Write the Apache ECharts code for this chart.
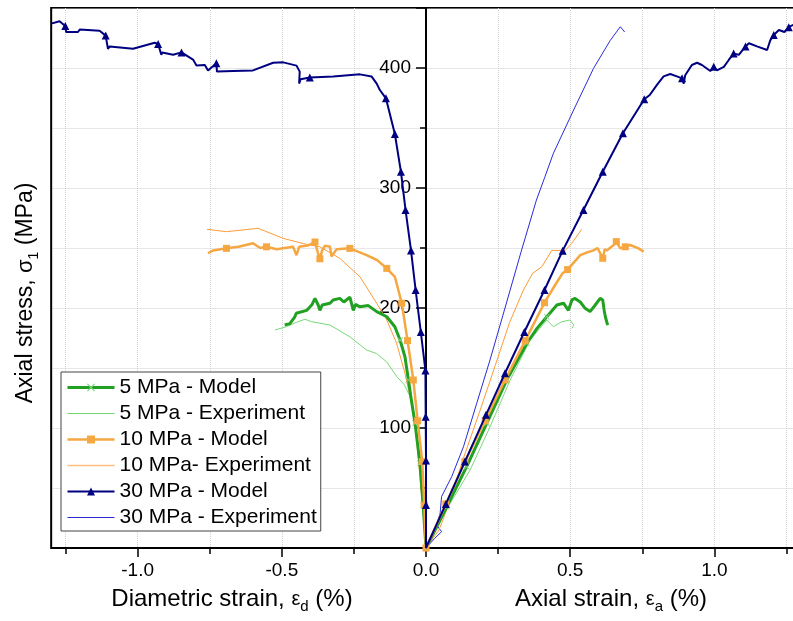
<!DOCTYPE html>
<html><head><meta charset="utf-8">
<script src="https://cdn.jsdelivr.net/npm/echarts@6/dist/echarts.min.js"></script>
<style>html,body{margin:0;padding:0;background:#fff}#c{width:793px;height:621px}</style>
</head><body><div id="c"></div>
<script>
// Each point: [strain (%), axial stress (MPa), marker flag]; negative strain = diametric branch
const model5 = [[-0.490,185.8],[-0.472,187],[-0.455,192.7],[-0.450,195.6],[-0.414,198],[-0.395,203],[-0.385,208],[-0.374,202.5],[-0.368,198],[-0.360,202.5],[-0.333,204],[-0.322,206.7],[-0.299,208],[-0.285,205],[-0.264,209],[-0.252,198],[-0.245,203],[-0.229,201],[-0.200,202],[-0.171,197],[-0.136,192.7],[-0.108,184.4],[-0.090,173.3,1],[-0.073,159.4],[-0.061,140,1],[-0.050,122],[-0.038,104,1],[-0.021,70.6,1],[-0.010,36,1],[0,0],
  [0.036,17],[0.072,34.4,1],[0.141,67.8,1],[0.211,104,1],[0.280,140,1],[0.350,170.6,1],[0.385,183],[0.419,192.7,1],[0.454,202.5],[0.477,204],[0.494,198],[0.506,206.7],[0.517,208],[0.535,205],[0.552,199.7],[0.569,197],[0.587,202.5],[0.604,208],[0.613,206.7],[0.618,198],[0.622,192.7],[0.630,185.8]];
const exp5 = [[-0.524,181.7],[-0.484,184.4],[-0.450,188],[-0.420,190.6],[-0.397,188.6],[-0.333,185.8],[-0.264,176],[-0.206,165],[-0.171,162],[-0.136,155],[-0.102,143],[-0.075,136],[-0.055,126],[-0.040,110],[-0.030,92],[-0.021,73],[-0.009,32],[0,0],
  [0.036,17],[0.076,34],[0.153,65],[0.222,101],[0.292,140],[0.361,173.3],[0.419,190],[0.442,184.4],[0.471,188.6],[0.500,190],[0.512,185.8],[0.506,183]];
const model10 = [[-0.756,245.6],[-0.738,248],[-0.692,249.7,1],[-0.650,251],[-0.600,254],[-0.575,250],[-0.553,251,1],[-0.518,249],[-0.461,251],[-0.449,244],[-0.440,251],[-0.410,252],[-0.385,255,1],[-0.375,246],[-0.368,241,1],[-0.360,248],[-0.350,252],[-0.333,251],[-0.328,243],[-0.310,249],[-0.264,249.7,1],[-0.206,244],[-0.170,240],[-0.136,233,1],[-0.108,226],[-0.084,204,1],[-0.064,172.8,1],[-0.044,140,1],[-0.029,106,1],[-0.013,72,1],[-0.006,35.8,1],[0,0,1],
  [0.069,36.7,1],[0.135,72,1],[0.205,106,1],[0.274,140,1],[0.344,172.8,1],[0.411,204.4,1],[0.450,220],[0.474,229],[0.491,232,1],[0.535,244],[0.555,246],[0.581,248],[0.595,250],[0.613,241.4,1],[0.620,249],[0.627,248],[0.651,252.5],[0.660,255.3,1],[0.674,249.7],[0.691,251,1],[0.708,252.5],[0.737,249.7],[0.755,247]];
const exp10 = [[-0.760,265.6],[-0.692,263.6],[-0.582,266.4],[-0.495,258],[-0.414,253],[-0.368,251],[-0.299,241.4],[-0.229,226],[-0.171,204],[-0.136,190],[-0.102,170.6],[-0.073,145.6],[-0.050,120],[-0.038,104],[-0.021,59.4],[-0.010,28],[0,0],
  [0.045,15],[0.085,40],[0.110,60],[0.130,75],[0.188,115],[0.240,152],[0.290,188],[0.338,215],[0.370,229],[0.402,234.4],[0.436,248],[0.483,248],[0.506,254],[0.540,265.6]];
const model30 = [[-1.300,437],[-1.294,438],[-1.271,439],[-1.251,435,1],[-1.248,430],[-1.207,430],[-1.201,432],[-1.132,431],[-1.111,427,1],[-1.103,416],[-1.097,418],[-1.016,416],[-0.941,421],[-0.929,420,1],[-0.918,411],[-0.915,413],[-0.877,411],[-0.848,413,1],[-0.808,407],[-0.796,402],[-0.767,402.5],[-0.756,398],[-0.727,404,1],[-0.725,397],[-0.669,397.5],[-0.600,398],[-0.530,404.4],[-0.495,404.7],[-0.449,402],[-0.438,397],[-0.440,387],[-0.435,390.6],[-0.403,392,1],[-0.322,393],[-0.229,394.7],[-0.189,393],[-0.171,387],[-0.160,381.7],[-0.139,374.7,1],[-0.108,345,1],[-0.087,313.6,1],[-0.071,281.7,1],[-0.052,248,1],[-0.036,215,1],[-0.018,180,1],[-0.002,148,1],[-0.001,109.4,1],[0,73,1],[0,35.8,1],[0,0],
  [0.069,36.7,1],[0.135,72,1],[0.208,111,1],[0.274,145.6,1],[0.341,180,1],[0.411,215,1],[0.474,247.8,1],[0.546,281.7,1],[0.613,313.6,1],[0.683,345.6,1],[0.757,374,1],[0.776,377.5],[0.801,386],[0.824,393],[0.847,395],[0.870,393],[0.888,391.4,1],[0.894,387],[0.899,394],[0.922,402.5],[0.940,404.4],[0.957,402.5],[0.986,397.5],[0.998,401,1],[1.009,398],[1.033,401],[1.050,406.7],[1.067,412,1],[1.085,411],[1.108,418,1],[1.120,420.6],[1.148,418],[1.183,415],[1.194,423],[1.206,427.5,1],[1.224,431.7],[1.243,430],[1.258,434,1],[1.274,436],[1.290,438]];
const exp30 = [[0,0],[0.030,8],[0.054,13.6],[0.037,19],[0.049,29],[0.054,42.8],[0.089,59.4],[0.130,84.4],[0.176,120.6],[0.222,156.7],[0.274,200],[0.330,247],[0.383,290],[0.412,309],[0.442,329],[0.512,365],[0.581,399.7],[0.639,423],[0.674,434.4],[0.680,436],[0.689,430]];

const legendNames = ['5 MPa - Model','5 MPa - Experiment','10 MPa - Model','10 MPa- Experiment','30 MPa - Model','30 MPa - Experiment'];
const xLabelTitles = ['Diametric strain, ', 'd', 'Axial strain, ', 'a'];
const yTitle = ['Axial stress, ', '1', ' (MPa)'];

const FONT = '"Liberation Sans", Arial, Helvetica, sans-serif';
const X_MIN = -1.5, X_MAX = 1.5, X_VIEW = -1.3, Y_MIN = 0, Y_MAX = 450;
const GRID_L = -6.5, GRID_R = -65.5;
const XSYM = 'path://M1,0L5,4L9,0L10,1L6,5L10,9L9,10L5,6L1,10L0,9L4,5L0,1Z';
const THIN = 'path://M0,0H470V10H0Z';
const C = { g: '#22a022', gm: '#7fd67f', ge: '#79d879', gel: '#6fd86f', o: '#f5a742', oe: '#ff9a35', oel: '#ffbf80', n: '#000080', ne: '#2b2bd6' };

function mk(name, arr, sym, size, lineColor, width, markColor, z) {
  return {
    name, type: 'line', xAxisIndex: 0, yAxisIndex: 0, color: lineColor,
    data: arr.map(p => ({ value: [p[0], p[1]], symbol: p[2] ? sym : 'none' })),
    symbol: sym, symbolSize: size, showSymbol: true, showAllSymbol: true,
    lineStyle: { color: lineColor, width: width }, itemStyle: { color: markColor },
    emphasis: { disabled: true }, animation: false, silent: true, z: z
  };
}

const gridW = 793 - GRID_L - GRID_R;
const yOffset = -((0 - X_MIN) / (X_MAX - X_MIN)) * gridW;

const chart = echarts.init(document.getElementById('c'), null, { renderer: 'canvas' });
chart.setOption({
  animation: false,
  backgroundColor: '#fff',
  grid: { left: GRID_L, right: GRID_R, top: 8, bottom: 73, show: true, borderColor: '#000', borderWidth: 2, backgroundColor: '#fff', containLabel: false, outerBoundsMode: 'none' },
  legend: {
    orient: 'vertical', left: 61, top: 372, padding: [5, 4, 3, 5], itemGap: 5, itemWidth: 47, itemHeight: 10,
    backgroundColor: '#fff', borderColor: '#444', borderWidth: 1, selectedMode: false,
    textStyle: { fontSize: 21, fontFamily: FONT, color: '#000', lineHeight: 21 },
    data: [
      { name: legendNames[0], lineStyle: { width: 3, color: C.g }, itemStyle: { color: C.gm } },
      { name: legendNames[1], icon: THIN, itemStyle: { color: C.gel } },
      { name: legendNames[2], lineStyle: { width: 2.5, color: C.o }, itemStyle: { color: C.o } },
      { name: legendNames[3], icon: 'path://M0,0H470V15H0Z', itemStyle: { color: C.oel } },
      { name: legendNames[4], lineStyle: { width: 2, color: C.n }, itemStyle: { color: C.n } },
      { name: legendNames[5], icon: THIN, itemStyle: { color: C.ne } }
    ]
  },
  xAxis: [
    { type: 'value', min: X_MIN, max: X_MAX, interval: 0.25, position: 'bottom',
      axisLine: { show: true, onZero: true, lineStyle: { color: '#000', width: 2 } },
      axisTick: { show: true, length: 6, lineStyle: { color: '#000', width: 1.5 } },
      axisLabel: { show: false },
      splitLine: { show: true, lineStyle: { color: '#cfcfcf', type: 'dotted', width: 1 } } },
    { type: 'value', min: X_MIN, max: X_MAX, interval: 0.5, position: 'bottom',
      axisLine: { show: false },
      axisTick: { show: true, length: 9, lineStyle: { color: '#000', width: 1.5 } },
      axisLabel: { show: true, fontSize: 19, fontFamily: FONT, color: '#000', margin: 13, showMinLabel: false, showMaxLabel: false, formatter: v => v.toFixed(1) },
      splitLine: { show: false } }
  ],
  yAxis: [
    { type: 'value', min: Y_MIN, max: Y_MAX, interval: 50, position: 'left',
      axisLine: { show: true, onZero: true, lineStyle: { color: '#000', width: 2 } },
      axisTick: { show: true, length: 6, lineStyle: { color: '#000', width: 1.5 } },
      axisLabel: { show: false },
      splitLine: { show: true, lineStyle: { color: '#cfcfcf', type: 'dotted', width: 1 } } },
    { type: 'value', min: Y_MIN, max: Y_MAX, interval: 100, position: 'left', offset: yOffset,
      axisLine: { show: true, onZero: false, lineStyle: { color: '#000', width: 2 } },
      axisTick: { show: true, length: 10, lineStyle: { color: '#000', width: 1.5 } },
      axisLabel: { show: true, fontSize: 19, fontFamily: FONT, color: '#000', margin: 15,
        formatter: v => (v > 0 && v < Y_MAX) ? String(v) : '' },
      splitLine: { show: false } }
  ],
  series: [
    mk(legendNames[5], exp30, 'none', 0, C.ne, 1, C.ne, 2),
    mk(legendNames[3], exp10, 'none', 0, C.oe, 1, C.oe, 3),
    mk(legendNames[1], exp5, 'none', 0, C.ge, 1, C.ge, 4),
    mk(legendNames[0], model5, XSYM, 6, C.g, 3, C.gm, 5),
    mk(legendNames[2], model10, 'rect', 7, C.o, 2.5, C.o, 6),
    mk(legendNames[4], model30, 'triangle', 8, C.n, 2, C.n, 7)
  ]
});

const tl = chart.convertToPixel({ xAxisIndex: 0, yAxisIndex: 0 }, [X_VIEW, Y_MAX]);
const bl = chart.convertToPixel({ xAxisIndex: 0, yAxisIndex: 0 }, [X_VIEW, Y_MIN]);
const richT = {
  t: { fontSize: 24, fontFamily: FONT, color: '#000', lineHeight: 30 },
  e: { fontSize: 20, fontFamily: FONT, color: '#000', lineHeight: 30 },
  s: { fontSize: 15, fontFamily: FONT, color: '#000', lineHeight: 30, verticalAlign: 'bottom' }
};
const richY = {
  t: { fontSize: 23, fontFamily: FONT, color: '#000', lineHeight: 30 },
  e: { fontSize: 22, fontFamily: FONT, color: '#000', lineHeight: 30 },
  s: { fontSize: 14, fontFamily: FONT, color: '#000', lineHeight: 30, verticalAlign: 'bottom' }
};
chart.setOption({
  graphic: [
    { type: 'rect', z: 50, silent: true, shape: { x: 0, y: 0, width: tl[0], height: 621 }, style: { fill: '#fff' } },
    { type: 'line', z: 60, silent: true, shape: { x1: tl[0], y1: tl[1] - 1, x2: bl[0], y2: bl[1] + 1 }, style: { stroke: '#000', lineWidth: 2 } },
    { type: 'text', z: 60, silent: true, x: 26, y: 293, rotation: Math.PI / 2,
      style: { text: '{t|' + yTitle[0] + '}{e|σ}{s|' + yTitle[1] + '}{t|' + yTitle[2] + '}', rich: richY, align: 'center', verticalAlign: 'middle' } },
    { type: 'text', z: 60, silent: true, x: 232, y: 599,
      style: { text: '{t|' + xLabelTitles[0] + '}{e|ε}{s|' + xLabelTitles[1] + '}{t| (%)}', rich: richT, align: 'center', verticalAlign: 'middle' } },
    { type: 'text', z: 60, silent: true, x: 611, y: 599,
      style: { text: '{t|' + xLabelTitles[2] + '}{e|ε}{s|' + xLabelTitles[3] + '}{t| (%)}', rich: richT, align: 'center', verticalAlign: 'middle' } }
  ]
});
</script></body></html>
